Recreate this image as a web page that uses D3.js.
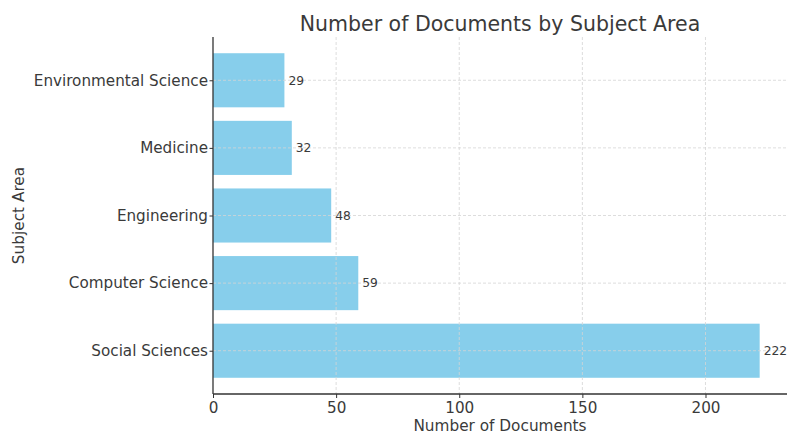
<!DOCTYPE html>
<html>
<head>
<meta charset="utf-8">
<script src="https://cdn.jsdelivr.net/npm/d3@7"></script>
<style>
  body { margin: 0; background: #fff; }
  text { font-family: "DejaVu Sans", sans-serif; fill: #3a3a3a; }
  .grid line { stroke: #d4d4d4; stroke-dasharray: 3,2; stroke-width: 0.8; }
</style>
</head>
<body>
<svg id="chart" width="788" height="434"></svg>
<script>
// data, bottom to top
var subjects = ["Social Sciences", "Computer Science", "Engineering", "Medicine", "Environmental Science"];
var counts = [222, 59, 48, 32, 29];
var xTicks = [0, 50, 100, 150, 200];

var W = 788, H = 434;
var margin = {top: 37, right: 1, bottom: 40, left: 213};
var innerW = W - margin.left - margin.right,
    innerH = H - margin.top - margin.bottom;

var svg = d3.select("#chart");
var g = svg.append("g").attr("transform", "translate(" + margin.left + "," + margin.top + ")");

// matplotlib-ish padding: 5% on x past the max, bars 0.8 wide with 5% margin
var x = d3.scaleLinear().domain([0, 222 * 1.05]).range([0, innerW]);
var y = d3.scaleLinear().domain([-0.64, 4.64]).range([innerH, 0]);
var barH = y(0) - y(0.8);

// bars
g.selectAll("rect.bar")
    .data(counts)
    .enter()
    .append("rect")
    .attr("class", "bar")
    .attr("x", x(0))
    .attr("y", function(d, i) { return y(i + 0.4); })
    .attr("width", function(d) { return x(d) - x(0); })
    .attr("height", barH)
    .style("fill", "#87ceeb");

// grid on top of bars
var grid = g.append("g").attr("class", "grid");
grid.selectAll("line.v")
    .data(xTicks.slice(1))
    .enter().append("line")
    .attr("x1", function(d) { return x(d); })
    .attr("x2", function(d) { return x(d); })
    .attr("y1", 0).attr("y2", innerH);
grid.selectAll("line.h")
    .data(subjects)
    .enter().append("line")
    .attr("x1", 0).attr("x2", innerW)
    .attr("y1", function(d, i) { return y(i); })
    .attr("y2", function(d, i) { return y(i); });

// value labels
g.selectAll("text.val")
    .data(counts)
    .enter()
    .append("text")
    .attr("class", "val")
    .attr("x", function(d) { return x(d) + 4; })
    .attr("y", function(d, i) { return y(i); })
    .attr("dy", "0.35em")
    .style("font-size", "12.3px")
    .text(function(d) { return d; });

// axes
var xAxis = d3.axisBottom(x).tickValues(xTicks).tickSize(4).tickPadding(4);
var gx = g.append("g").attr("transform", "translate(0," + innerH + ")").call(xAxis);
gx.select(".domain").attr("d", "M0,0H" + innerW);

var yAxis = d3.axisLeft(y)
    .tickValues(d3.range(subjects.length))
    .tickFormat(function(i) { return subjects[i]; })
    .tickSize(3.5).tickPadding(1.5);
var gy = g.append("g").call(yAxis);
gy.select(".domain").attr("d", "M0,0V" + innerH);

[gx, gy].forEach(function(a) {
    a.selectAll(".domain").style("stroke", "#333").style("stroke-width", 1.3);
    a.selectAll(".tick line").style("stroke", "#333");
    a.selectAll(".tick text").style("font-size", "15.2px").style("fill", "#3a3a3a").attr("font-family", null);
});

// titles
svg.append("text")
    .attr("x", margin.left + innerW / 2)
    .attr("y", 30.5)
    .attr("text-anchor", "middle")
    .style("font-size", "20.5px")
    .text("Number of Documents by Subject Area");

svg.append("text")
    .attr("x", margin.left + innerW / 2)
    .attr("y", 431)
    .attr("text-anchor", "middle")
    .style("font-size", "15.3px")
    .text("Number of Documents");

svg.append("text")
    .attr("transform", "translate(23.5," + (margin.top + innerH / 2) + ") rotate(-90)")
    .attr("text-anchor", "middle")
    .style("font-size", "15.3px")
    .text("Subject Area");
</script>
</body>
</html>
